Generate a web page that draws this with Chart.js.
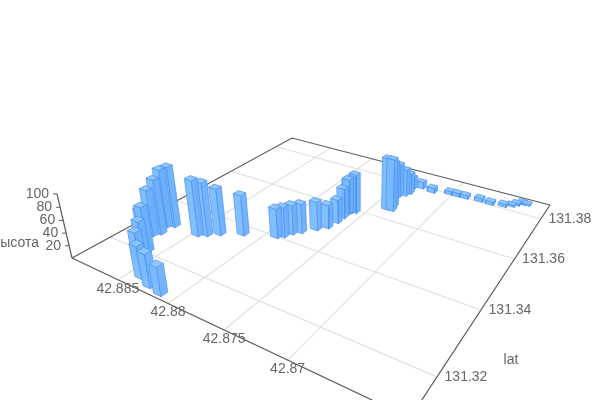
<!DOCTYPE html>
<html>
<head>
<meta charset="utf-8">
<style>
  html, body { margin: 0; padding: 0; background: #fff; }
  #wrap { width: 600px; height: 400px; }
</style>
<script src="https://cdn.jsdelivr.net/npm/chart.js@4/dist/chart.umd.min.js"></script>
</head>
<body>
<div id="wrap"><canvas id="myChart" width="600" height="400"></canvas></div>
<script>
const lat = [42.8872, 42.8877, 42.8873, 42.8876, 42.8862, 42.8865, 42.8865, 42.8854, 42.8839, 42.8826, 42.8813,
  42.8846, 42.8840, 42.8832, 42.8816, 42.8791, 42.8787, 42.8784, 42.8779, 42.8771, 42.8765, 42.8763, 42.8763,
  42.8763, 42.8762, 42.8759, 42.8738, 42.8734, 42.8736, 42.8741, 42.8737, 42.8735, 42.8737, 42.8730, 42.8718,
  42.8703, 42.8696, 42.8688, 42.8675, 42.8665, 42.8654, 42.8648, 42.8645, 42.8641, 42.8637];
const lon = [131.3314, 131.3304, 131.3275, 131.3260, 131.3209, 131.3212, 131.3203, 131.3168, 131.3136, 131.3124, 131.3118,
  131.3314, 131.3325, 131.3344, 131.3371, 131.3403, 131.3414, 131.3434, 131.3449, 131.3478, 131.3499, 131.3531, 131.3558,
  131.3581, 131.3587, 131.3594, 131.3649, 131.3650, 131.3670, 131.3724, 131.3737, 131.3753, 131.3783, 131.3797, 131.3791,
  131.3805, 131.3805, 131.3806, 131.3811, 131.3810, 131.3817, 131.3829, 131.3841, 131.3853, 131.3854];
const height = [100, 96, 90, 76, 72, 65, 50, 51, 51, 52, 44,
  92, 88, 77, 67, 49, 50, 49, 49, 48, 40, 40, 51,
  60, 60, 67, 90, 90, 78, 59, 48, 37, 21, 12, 9,
  6, 6.5, 6.5, 6.5, 5.5, 5, 3, 4, 4, 3];

const latTicks = [42.885, 42.88, 42.875, 42.87];
const lonTicks = [131.32, 131.34, 131.36, 131.38];
const altTicks = [20, 40, 60, 80, 100];
const latRange = [42.8619, 42.8901];
const lonRange = [131.3102, 131.388];
const altMax = 100;

// camera, fitted to the floor corners of the picture
const cam = { a: 219.2, b: 356.4, c: 72, d: 38.9, e: -55.5, f: 258, g: -0.2897, h: 0.4672, i: -0.000498, vx: 358, vy: 1480 };

function toUV(la, lo) {
  return [(latRange[1] - la) / (latRange[1] - latRange[0]), (lo - lonRange[0]) / (lonRange[1] - lonRange[0])];
}

function project(u, v, alt) {
  const w = 1 + cam.g * u + cam.h * v + cam.i * alt;
  return {
    x: (cam.a * u + cam.b * v + cam.c + cam.vx * cam.i * alt) / w,
    y: (cam.d * u + cam.e * v + cam.f + cam.vy * cam.i * alt) / w,
  };
}

const pt = (la, lo, alt) => { const [u, v] = toUV(la, lo); return project(u, v, alt); };

function lineSet(points, color, width) {
  return { data: points, showLine: true, borderColor: color, borderWidth: width, pointRadius: 0, clip: false };
}

function faceSet(points, fill) {
  return { data: points.concat([points[0]]), showLine: true, borderColor: "rgba(78,146,238,0.7)", borderWidth: 1, pointRadius: 0, faceColor: fill };
}

const layers = [];

// floor grid
latTicks.forEach(t => layers.push(lineSet([pt(t, lonRange[0], 0), pt(t, lonRange[1], 0)], "#e0e0e0", 1.2)));
lonTicks.forEach(t => layers.push(lineSet([pt(latRange[0], t, 0), pt(latRange[1], t, 0)], "#e0e0e0", 1.2)));

// axes
const axisColor = "#5a5a5a";
layers.push(lineSet([pt(latRange[1], lonRange[0], 0), pt(latRange[1], lonRange[1], 0), pt(latRange[0], lonRange[1], 0)], axisColor, 1.2));
layers.push(lineSet([pt(latRange[1], lonRange[0], 0), pt(latRange[0], lonRange[0], 0), pt(latRange[0], lonRange[1], 0)], axisColor, 1.2));
layers.push(lineSet([pt(latRange[1], lonRange[0], 0), pt(latRange[1], lonRange[0], altMax)], axisColor, 1.2));
altTicks.forEach(t => {
  const p = pt(latRange[1], lonRange[0], t);
  layers.push(lineSet([p, { x: p.x - 4, y: p.y }], axisColor, 1));
});

// bars, far ones first
const halfU = 0.013;
const halfV = 0.011;
const order = lat.map((_, n) => n).sort((p, q) => {
  const [u1, v1] = toUV(lat[p], lon[p]);
  const [u2, v2] = toUV(lat[q], lon[q]);
  return (cam.g * u2 + cam.h * v2) - (cam.g * u1 + cam.h * v1);
});
order.forEach(n => {
  const [u, v] = toUV(lat[n], lon[n]);
  const z = height[n];
  const u0 = u - halfU, u1 = u + halfU, v0 = v - halfV, v1 = v + halfV;
  layers.push(faceSet([project(u0, v0, 0), project(u1, v0, 0), project(u1, v0, z), project(u0, v0, z)], "rgba(122,188,255,0.95)"));
  layers.push(faceSet([project(u1, v0, 0), project(u1, v1, 0), project(u1, v1, z), project(u1, v0, z)], "rgba(108,176,252,0.95)"));
  layers.push(faceSet([project(u0, v0, z), project(u1, v0, z), project(u1, v1, z), project(u0, v1, z)], "rgba(140,198,255,0.95)"));
});

const faceFill = {
  id: "faceFill",
  beforeDatasetDraw(chart, args) {
    const ds = chart.data.datasets[args.index];
    if (!ds.faceColor) return;
    const { ctx } = chart;
    const els = args.meta.data;
    ctx.save();
    ctx.fillStyle = ds.faceColor;
    ctx.beginPath();
    els.forEach((el, n) => (n ? ctx.lineTo(el.x, el.y) : ctx.moveTo(el.x, el.y)));
    ctx.closePath();
    ctx.fill();
    ctx.restore();
  },
};

const axisText = {
  id: "axisText",
  afterDraw(chart) {
    const { ctx, scales } = chart;
    const at = p => [scales.x.getPixelForValue(p.x), scales.y.getPixelForValue(p.y)];
    ctx.save();
    ctx.font = "14px 'Liberation Sans', Arial, sans-serif";
    ctx.fillStyle = "#666";
    ctx.textBaseline = "middle";
    ctx.textAlign = "center";
    latTicks.forEach(t => {
      const [x, y] = at(pt(t, lonRange[0], 0));
      ctx.fillText(String(t), x, y + 9);
    });
    lonTicks.forEach(t => {
      const [x, y] = at(pt(latRange[0], t, 0));
      ctx.fillText(String(t), x + 29, y);
    });
    ctx.textAlign = "right";
    altTicks.forEach(t => {
      const [x, y] = at(pt(latRange[1], lonRange[0], t));
      ctx.fillText(String(t), x - 8, y);
    });
    ctx.fillText("высота", 39, 243);
    ctx.textAlign = "center";
    ctx.fillText("lat", 511, 360);
    ctx.restore();
  },
};

const chart = new Chart(document.getElementById("myChart"), {
  type: "scatter",
  data: { datasets: layers.slice().reverse() },
  options: {
    responsive: false,
    animation: false,
    events: [],
    layout: { padding: 0 },
    plugins: { legend: { display: false }, tooltip: { enabled: false } },
    scales: {
      x: { type: "linear", min: 0, max: 600, display: false },
      y: { type: "linear", min: 0, max: 400, reverse: true, display: false },
    },
  },
  plugins: [faceFill, axisText],
});
</script>
</body>
</html>
